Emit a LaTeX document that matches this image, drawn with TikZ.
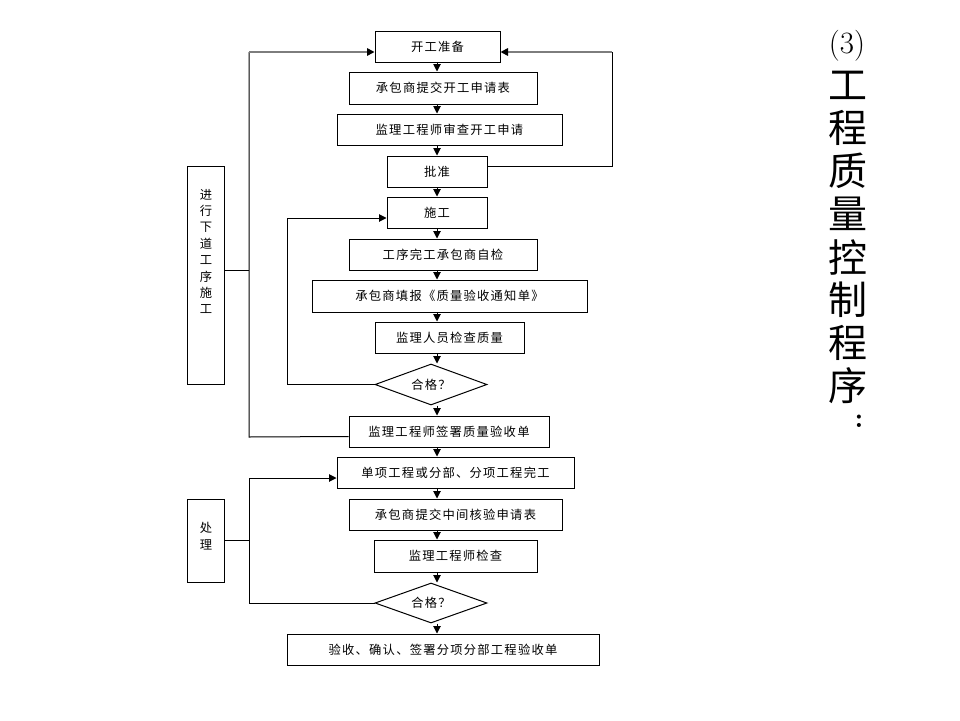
\documentclass[tikz,border=0pt]{standalone}
\usepackage{fontspec}
\newfontfamily\cjk[LetterSpace=10]{Noto Sans CJK SC}
\newfontfamily\cjkt{Noto Sans CJK SC}
\usetikzlibrary{shapes.geometric,arrows.meta}
\definecolor{lg}{RGB}{125,125,125}
\begin{document}
\begin{tikzpicture}[x=1pt,y=-1pt,
  box/.style={draw, line width=1pt, inner sep=0pt, minimum height=31pt, font=\cjk\fontsize{12.3}{14}\selectfont},
  dia/.style={draw, diamond, aspect=2.7, inner sep=0pt, line width=1pt, minimum width=112pt, minimum height=41pt, font=\cjk\fontsize{12.3}{14}\selectfont},
  arr/.style={line width=1pt, -{Triangle[length=7.5pt,width=7.5pt]}},
  ln/.style={line width=1pt},
  gln/.style={line width=1.6pt, draw=lg, -{Triangle[length=7.5pt,width=7.5pt,color=black]}},
  vtxt/.style={inner sep=0pt, align=center, font=\cjk\fontsize{12.3}{16.4}\selectfont},
  ttl/.style={inner sep=0pt, font=\cjkt\fontsize{39}{43}\selectfont}
]
\useasboundingbox (0,0) rectangle (960,720);
\fill[white] (0,0) rectangle (960,720);

% main column
\node[box, minimum width=125pt] (kg) at (437.5,46.5) {开工准备};
\node[box, minimum width=188pt, minimum height=32pt] (tj) at (443,88) {承包商提交开工申请表};
\node[box, minimum width=225pt] (sc) at (449.5,129.5) {监理工程师审查开工申请};
\node[box, minimum width=100pt] (pz) at (437,171.5) {批准};
\node[box, minimum width=100pt] (sg) at (437,212.5) {施工};
\node[box, minimum width=188pt] (zj) at (443,254.5) {工序完工承包商自检};
\node[box, minimum width=275pt, minimum height=32pt] (tb) at (449.5,296) {承包商填报《质量验收通知单》};
\node[box, minimum width=149pt] (jc) at (449.5,337.5) {监理人员检查质量};
\node[dia] (d1) at (431,384.5) {合格？};
\node[box, minimum width=200pt] (qs) at (449,431.5) {监理工程师签署质量验收单};
\node[box, minimum width=237pt] (dx) at (455.5,472.5) {单项工程或分部、分项工程完工};
\node[box, minimum width=213pt] (hy) at (455.5,514.5) {承包商提交中间核验申请表};
\node[box, minimum width=163pt, minimum height=32pt] (jc2) at (455.5,556) {监理工程师检查};
\node[dia, minimum height=40pt] (d2) at (431,603) {合格？};
\node[box, minimum width=312pt] (ys) at (443,649.5) {验收、确认、签署分项分部工程验收单};

% side boxes
\node[box, minimum width=37pt, minimum height=218pt] (s1) at (205.5,275) {};
\node[vtxt] (s1t) at (206,251.5) {进\\行\\下\\道\\工\\序\\施\\工};
\node[box, minimum width=37pt, minimum height=83pt] (s2) at (205.5,540.5) {};
\node[vtxt] (s2t) at (206,536) {处\\理};

% vertical arrows
\coordinate (ax) at (437,0);
\foreach \a/\b in {kg/tj, tj/sc, sc/pz, pz/sg, sg/zj, zj/tb, tb/jc, jc/d1, d1/qs, qs/dx, dx/hy, hy/jc2, jc2/d2, d2/ys}
  \draw[arr] (ax |- \a.south) -- (ax |- \b.north);

% left loop (upper)
\coordinate (L1t) at (249,52);
\coordinate (L1b) at (249,437);
\coordinate (L1m) at (249,270);
\draw[ln] ([yshift=-5pt]qs.west) -- (L1b) -- (L1t);
\draw[gln] (L1t) -- ([yshift=-5.5pt]kg.west);
\draw[ln] ([yshift=5pt]s1.east) -- (L1m);

% right loop
\coordinate (R1b) at (612,166);
\coordinate (R1t) at (612,52);
\draw[ln] ([yshift=5.5pt]pz.east) -- (R1b) -- (R1t);
\draw[gln] (R1t) -- ([yshift=-5.5pt]kg.east);

% inner loop
\coordinate (I1b) at (287,384.5);
\coordinate (I1t) at (287,218);
\draw[arr] (d1.west) -- (I1b) -- (I1t) -- ([yshift=-5.5pt]sg.west);

% lower loop
\coordinate (L2t) at (249,478);
\coordinate (L2b) at (249,603);
\coordinate (L2m) at (249,540.5);
\draw[arr] (d2.west) -- (L2b) -- (L2t) -- ([yshift=-5.5pt]dx.west);
\draw[ln] (s2.east) -- (L2m);

% title
\node[inner sep=0pt, font=\fontsize{31}{31}\selectfont] (t0) at (847,46) {(3)};
\foreach \c [count=\i] in {工,程,质,量,控,制,程,序}
  \node[ttl] (t\i) at (848,{85+43*(\i-1)}) {\c};
\node[inner sep=0pt, font=\bfseries\fontsize{28}{28}\selectfont] (tc) at (859,421) {:};
\end{tikzpicture}
\end{document}
